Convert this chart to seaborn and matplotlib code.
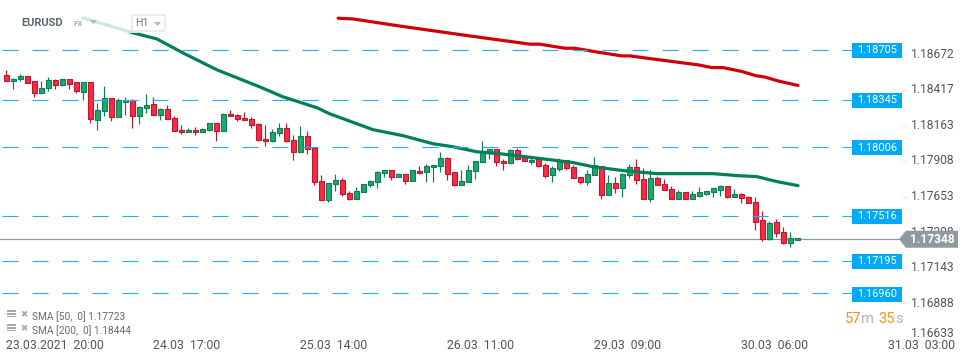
import numpy as np
import pandas as pd
import matplotlib.pyplot as plt
from matplotlib.patches import Polygon, Rectangle, FancyBboxPatch
from matplotlib.transforms import ScaledTranslation
import seaborn as sns

W, H = 970, 364

# hourly candles, starting 23.03.2021 20:00
opens = [1.18524, 1.18479, 1.18495, 1.18517, 1.18479, 1.18393, 1.18431, 1.18488, 1.18450, 1.18495,
         1.18474, 1.18400, 1.18474, 1.18200, 1.18264, 1.18359, 1.18221, 1.18328, 1.18345, 1.18231,
         1.18285, 1.18316, 1.18235, 1.18281, 1.18216, 1.18130, 1.18114, 1.18130, 1.18114, 1.18128,
         1.18180, 1.18121, 1.18245, 1.18238, 1.18216, 1.18209, 1.18173, 1.18066, 1.18049, 1.18107,
         1.18145, 1.18059, 1.17971, 1.18088, 1.18002, 1.17768, 1.17627, 1.17742, 1.17773, 1.17680,
         1.17635, 1.17687, 1.17735, 1.17756, 1.17821, 1.17844, 1.17792, 1.17816, 1.17763, 1.17837,
         1.17828, 1.17864, 1.17871, 1.17930, 1.17830, 1.17735, 1.17756, 1.17835, 1.17899, 1.17966,
         1.17995, 1.17909, 1.17892, 1.17987, 1.17942, 1.17899, 1.17930, 1.17880, 1.17806, 1.17852,
         1.17916, 1.17866, 1.17794, 1.17756, 1.17806, 1.17873, 1.17663, 1.17751, 1.17713, 1.17806,
         1.17866, 1.17780, 1.17635, 1.17787, 1.17744, 1.17709, 1.17635, 1.17687, 1.17635, 1.17656,
         1.17670, 1.17685, 1.17699, 1.17730, 1.17649, 1.17673, 1.17651, 1.17616, 1.17487, 1.17351,
         1.17473, 1.17401, 1.17320, 1.17344]
highs = [1.18562, 1.18502, 1.18533, 1.18519, 1.18481, 1.18483, 1.18510, 1.18495, 1.18498, 1.18495,
         1.18476, 1.18474, 1.18476, 1.18326, 1.18445, 1.18362, 1.18359, 1.18366, 1.18352, 1.18302,
         1.18390, 1.18366, 1.18292, 1.18309, 1.18231, 1.18166, 1.18147, 1.18152, 1.18145, 1.18180,
         1.18180, 1.18250, 1.18273, 1.18245, 1.18262, 1.18221, 1.18180, 1.18169, 1.18138, 1.18180,
         1.18180, 1.18097, 1.18159, 1.18123, 1.18002, 1.17811, 1.17754, 1.17818, 1.17790, 1.17697,
         1.17725, 1.17744, 1.17773, 1.17837, 1.17844, 1.17844, 1.17821, 1.17816, 1.17844, 1.17873,
         1.17887, 1.17883, 1.17976, 1.17935, 1.17830, 1.17844, 1.17883, 1.17909, 1.18054, 1.17995,
         1.17995, 1.17923, 1.17992, 1.18002, 1.17942, 1.17930, 1.17930, 1.17894, 1.17873, 1.17930,
         1.17916, 1.17880, 1.17794, 1.17844, 1.17937, 1.17873, 1.17809, 1.17794, 1.17823, 1.17887,
         1.17923, 1.17859, 1.17844, 1.17801, 1.17780, 1.17730, 1.17701, 1.17687, 1.17694, 1.17723,
         1.17694, 1.17716, 1.17737, 1.17730, 1.17709, 1.17680, 1.17658, 1.17651, 1.17551, 1.17480,
         1.17494, 1.17437, 1.17401, 1.17358]
lows = [1.18481, 1.18428, 1.18479, 1.18471, 1.18364, 1.18393, 1.18407, 1.18428, 1.18443, 1.18428,
        1.18393, 1.18343, 1.18178, 1.18128, 1.18228, 1.18192, 1.18221, 1.18240, 1.18147, 1.18176,
        1.18250, 1.18235, 1.18200, 1.18207, 1.18121, 1.18100, 1.18114, 1.18092, 1.18114, 1.18121,
        1.18049, 1.18121, 1.18228, 1.18192, 1.18200, 1.18147, 1.18049, 1.18014, 1.18042, 1.18085,
        1.18042, 1.17914, 1.17971, 1.17956, 1.17735, 1.17627, 1.17618, 1.17697, 1.17656, 1.17627,
        1.17635, 1.17687, 1.17720, 1.17718, 1.17797, 1.17771, 1.17792, 1.17747, 1.17763, 1.17813,
        1.17761, 1.17756, 1.17833, 1.17775, 1.17728, 1.17735, 1.17756, 1.17782, 1.17899, 1.17925,
        1.17871, 1.17847, 1.17892, 1.17918, 1.17906, 1.17890, 1.17866, 1.17785, 1.17756, 1.17837,
        1.17847, 1.17785, 1.17742, 1.17735, 1.17806, 1.17635, 1.17663, 1.17682, 1.17649, 1.17785,
        1.17742, 1.17635, 1.17613, 1.17735, 1.17699, 1.17635, 1.17635, 1.17635, 1.17635, 1.17649,
        1.17663, 1.17649, 1.17656, 1.17642, 1.17649, 1.17606, 1.17606, 1.17413, 1.17334, 1.17341,
        1.17363, 1.17313, 1.17291, 1.17344]
closes = [1.18481, 1.18495, 1.18517, 1.18471, 1.18393, 1.18431, 1.18488, 1.18450, 1.18495, 1.18464,
          1.18407, 1.18474, 1.18207, 1.18273, 1.18359, 1.18221, 1.18345, 1.18345, 1.18228, 1.18295,
          1.18309, 1.18235, 1.18281, 1.18207, 1.18121, 1.18114, 1.18128, 1.18114, 1.18138, 1.18180,
          1.18121, 1.18245, 1.18228, 1.18207, 1.18200, 1.18164, 1.18056, 1.18049, 1.18116, 1.18145,
          1.18049, 1.17971, 1.18088, 1.17995, 1.17756, 1.17627, 1.17754, 1.17773, 1.17670, 1.17635,
          1.17694, 1.17744, 1.17766, 1.17830, 1.17844, 1.17792, 1.17816, 1.17763, 1.17844, 1.17821,
          1.17873, 1.17880, 1.17930, 1.17813, 1.17735, 1.17766, 1.17844, 1.17909, 1.17978, 1.17995,
          1.17899, 1.17892, 1.17987, 1.17923, 1.17906, 1.17916, 1.17871, 1.17799, 1.17859, 1.17909,
          1.17859, 1.17785, 1.17756, 1.17816, 1.17880, 1.17663, 1.17751, 1.17713, 1.17816, 1.17866,
          1.17771, 1.17635, 1.17787, 1.17735, 1.17699, 1.17635, 1.17687, 1.17635, 1.17673, 1.17687,
          1.17694, 1.17716, 1.17730, 1.17649, 1.17673, 1.17642, 1.17606, 1.17470, 1.17353, 1.17465,
          1.17394, 1.17320, 1.17358, 1.17358]

sma50_pos = [10.95, 13.4, 18.1, 21.5, 25.2, 30.1, 36.2, 39.5, 44.4, 46.2, 52.4, 56.7, 60.9, 63.8,
             67.2, 70.5, 75.2, 78.8, 81, 83.8, 88.1, 92.9, 101, 104.4, 107.2, 110.1, 113.1]
sma50_vals = [1.18934, 1.18898, 1.18827, 1.18784, 1.18684, 1.18562, 1.18440, 1.18369, 1.18290,
              1.18247, 1.18133, 1.18090, 1.18033, 1.18011, 1.17975, 1.17961, 1.17933, 1.17911,
              1.17897, 1.17868, 1.17840, 1.17818, 1.17818, 1.17804, 1.17797, 1.17761, 1.17732]
sma200_pos = [47.4, 49.5, 55.8, 65.2, 74.8, 76.2, 79.8, 81.2, 84.5, 87.9, 89.1, 92.2, 98.8, 100.8,
              102.4, 105.1, 107, 108.4, 110.2, 113.1]
sma200_vals = [1.18932, 1.18927, 1.18879, 1.18812, 1.18746, 1.18746, 1.18717, 1.18717, 1.18689,
               1.18662, 1.18662, 1.18641, 1.18598, 1.18578, 1.18578, 1.18550, 1.18521, 1.18510,
               1.18483, 1.18450]

levels = [1.18705, 1.18345, 1.18006, 1.17516, 1.17195, 1.16960]
price_ticks = [1.18672, 1.18417, 1.18163, 1.17908, 1.17653, 1.17398, 1.17143, 1.16888, 1.16633]
time_pos = [0, 21, 42, 63, 84, 105, 126]
time_labels = ['23.03.2021  20:00', '24.03  17:00', '25.03  14:00', '26.03  11:00',
               '29.03  09:00', '30.03  06:00', '31.03  03:00']
last_price = 1.17348

sns.set_style('white')
plt.rcParams['font.family'] = ['Roboto', 'DejaVu Sans']

fig = plt.figure(figsize=(W / 100, H / 100), dpi=100)
# plot area in pixels: x 0-902, y 0-339
ax = fig.add_axes([0, 1 - 339 / H, 902 / W, 339 / H])
px_per_candle = 7.0
x0 = 6.33
ax.set_xlim((0 - x0) / px_per_candle, (902 - x0) / px_per_candle)
y_scale = 13983.0
ax.set_ylim(1.18705 - (339 - 50) / y_scale, 1.18705 + 50 / y_scale)
sns.despine(ax=ax, left=True, right=True, top=True, bottom=True)


def to_fig(x, y):
    return x / W, 1 - y / H


def px_text(x, y, s, **kw):
    kw.setdefault('va', 'center')
    return fig.text(x / W, 1 - y / H, s, **kw)


# candles
idx = np.arange(len(opens))
o, h, l, c = map(np.array, (opens, highs, lows, closes))
up = c >= o
for mask, face, edge in [(up, '#1fa76c', '#0d7d55'), (~up, '#fa2a44', '#b81a31')]:
    ax.vlines(idx[mask], l[mask], h[mask], color=edge, lw=0.85, zorder=2)
    ax.bar(idx[mask], np.abs(c - o)[mask], bottom=np.minimum(o, c)[mask], width=4.4 / px_per_candle,
           color=face, edgecolor=edge, linewidth=0.8, zorder=3)

# SMA lines
df50 = pd.DataFrame({'pos': sma50_pos, 'val': sma50_vals})
df200 = pd.DataFrame({'pos': sma200_pos, 'val': sma200_vals})
sns.lineplot(data=df50, x='pos', y='val', ax=ax, color='#007f58', lw=2.3, zorder=4, sort=False)
sns.lineplot(data=df200, x='pos', y='val', ax=ax, color='#d00008', lw=2.3, zorder=4, sort=False)
ax.set_xlabel('')
ax.set_ylabel('')

# horizontal levels
ax.hlines(levels, (2 - x0) / px_per_candle, (852 - x0) / px_per_candle, color='#22aef0', lw=0.8,
          linestyle=(0, (14.4, 12.6)), zorder=5)
for lev in levels:
    y = ax.transData.transform((0, lev))[1]
    ypx = H - y
    fig.add_artist(Rectangle(to_fig(852, ypx + 7.5), 50 / W, 15 / H, transform=fig.transFigure,
                             fc='#03a9f4', ec='none', zorder=6))
    px_text(877, ypx, f'{lev:.5f}', color='white', fontsize=7.9, ha='center', zorder=7)

# last price
ax.axhline(last_price, color='#8c9a9e', lw=0.9, zorder=1)

# axes ticks
ax.yaxis.tick_right()
ax.set_yticks(price_ticks)
ax.set_yticklabels([f'{t:.5f}' for t in price_ticks])
ax.tick_params(axis='y', length=3.6, width=0.8, color='#e8e8e8', labelcolor='#555555', labelsize=8.65,
               pad=2.9, right=True)
shift = ScaledTranslation(0, 1.2 / 72, fig.dpi_scale_trans)
for lab in ax.get_yticklabels():
    lab.set_transform(lab.get_transform() + shift)
# the lowest label is pushed up by the time axis
low_lab = ax.get_yticklabels()[-1]
low_lab.set_transform(low_lab.get_transform() + ScaledTranslation(0, 3.6 / 72, fig.dpi_scale_trans))
ax.set_xticks(time_pos)
ax.set_xticklabels(time_labels, ha='left')
ax.tick_params(axis='x', length=3.6, width=0.8, color='#eeeeee', labelcolor='#555555', labelsize=8.8,
               pad=-3.6, bottom=True)

# price tag over the tick labels
ypx = H - ax.transData.transform((0, last_price))[1]
fig.add_artist(Polygon([to_fig(899, ypx), to_fig(906, ypx - 8.5), to_fig(958, ypx - 8.5),
                        to_fig(958, ypx + 8.5), to_fig(906, ypx + 8.5)],
                       transform=fig.transFigure, fc='#8e9a9e', ec='none', zorder=6))
px_text(932, ypx, f'{last_price:.5f}', color='white', fontsize=8.65, fontweight='bold', ha='center', zorder=7)

# header fades the line behind it
fig.add_artist(Rectangle(to_fig(70, 33), 68 / W, 25 / H, transform=fig.transFigure, fc='white',
                         alpha=0.82, ec='none', zorder=5))
px_text(21, 23, 'EURUSD', color='#5b6670', fontsize=7.9, fontweight='bold', zorder=7)
px_text(74, 24, 'FX', color='#a3b0ba', fontsize=5.8, fontweight='bold', zorder=7)
fig.add_artist(Polygon([to_fig(90, 20), to_fig(97, 20), to_fig(93.5, 24)], transform=fig.transFigure,
                       fc='#b8b8b8', ec='none', zorder=7))
fig.add_artist(FancyBboxPatch(to_fig(132, 31), 33 / W, 16 / H, boxstyle='round,pad=0,rounding_size=0.003',
                              transform=fig.transFigure, fc='white', ec='#dddddd', lw=0.8, zorder=6))
px_text(135, 23.5, 'H1', color='#707a80', fontsize=7.6, zorder=7)
fig.add_artist(Polygon([to_fig(154, 22), to_fig(161, 22), to_fig(157.5, 26)], transform=fig.transFigure,
                       fc='#b8b8b8', ec='none', zorder=7))

# indicator legend
for ypos, label in [(317, 'SMA [50,  0] 1.17723'), (331, 'SMA [200,  0] 1.18444')]:
    for k in range(3):
        fig.add_artist(Rectangle(to_fig(7, ypos - 5 + k * 2.6), 9 / W, 1.6 / H, transform=fig.transFigure,
                                 fc='#a8a8a8', ec='none'))
    px_text(24, ypos - 2.5, '✖', color='#a8a8a8', fontsize=6.2, ha='center', family=['DejaVu Sans'])
    px_text(32, ypos, label, color='#6a6a6a', fontsize=7.3)

# countdown
for xpos, s, col in [(845, '57', '#f7941d'), (861, 'm', '#b5b5b5'), (878, '35', '#f7941d'), (895, 's', '#b5b5b5')]:
    px_text(xpos, 319, s, color=col, fontsize=10.6)

fig.savefig('out.png', dpi=100)
